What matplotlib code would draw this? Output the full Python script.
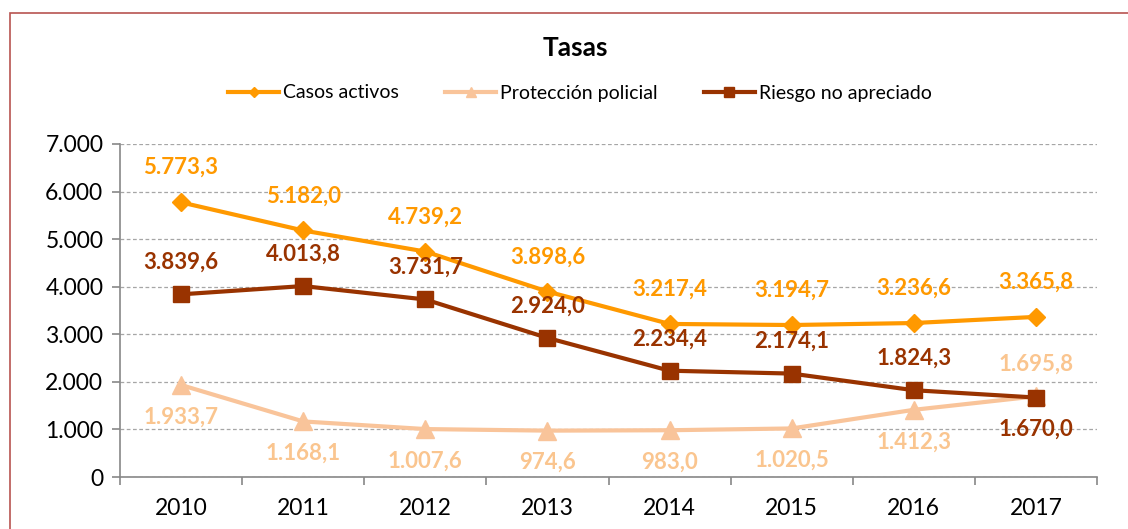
import matplotlib
matplotlib.use("Agg")
import matplotlib.pyplot as plt
from matplotlib.patches import Rectangle

plt.rcParams['font.family'] = ['Lato', 'DejaVu Sans']

years = ["2010", "2011", "2012", "2013", "2014", "2015", "2016", "2017"]
casos_activos = [5773.3, 5182.0, 4739.2, 3898.6, 3217.4, 3194.7, 3236.6, 3365.8]
proteccion_policial = [1933.7, 1168.1, 1007.6, 974.6, 983.0, 1020.5, 1412.3, 1695.8]
riesgo_no_apreciado = [3839.6, 4013.8, 3731.7, 2924.0, 2234.4, 2174.1, 1824.3, 1670.0]
y_ticks = [0, 1000, 2000, 3000, 4000, 5000, 6000, 7000]

c_casos = "#FF9900"
c_prot = "#F9C49A"
c_prot_txt = "#FAC58F"
c_riesgo = "#993300"

def fmt(v, dec=1):
    s = f"{v:,.{dec}f}"
    return s.replace(",", "X").replace(".", ",").replace("X", ".")

fig = plt.figure(figsize=(11.28, 5.29), dpi=100)
# outer frame
fig.patches.append(Rectangle((10/1128, -0.1), 1.2, (529-13)/529 + 0.1, transform=fig.transFigure,
                             fill=False, edgecolor="#B85450", linewidth=1.2))
ax = fig.add_axes([120/1128, 1-477/529, (1097-120)/1128, (477-144)/529])

x = list(range(len(years)))
ax.plot(x, casos_activos, color=c_casos, lw=3, marker="D", ms=9, label="Casos activos", zorder=3)
ax.plot(x, proteccion_policial, color=c_prot, lw=3, marker="^", ms=13, label="Protección policial", zorder=2)
ax.plot(x, riesgo_no_apreciado, color=c_riesgo, lw=3, marker="s", ms=11, label="Riesgo no apreciado", zorder=4)

lab_fs = 16
for i, v in enumerate(casos_activos):
    ax.annotate(fmt(v), (i, v), xytext=(0, 25), textcoords="offset points", ha="center", va="center",
                color=c_casos, fontsize=lab_fs, fontweight="bold")
for i, v in enumerate(riesgo_no_apreciado):
    dy = 23 if i < len(years) - 1 else -23
    ax.annotate(fmt(v), (i, v), xytext=(0, dy), textcoords="offset points", ha="center", va="center",
                color=c_riesgo, fontsize=lab_fs, fontweight="bold")
for i, v in enumerate(proteccion_policial):
    dy = -23 if i < len(years) - 1 else 23
    ax.annotate(fmt(v), (i, v), xytext=(0, dy), textcoords="offset points", ha="center", va="center",
                color=c_prot_txt, fontsize=lab_fs, fontweight="bold")

ax.set_xlim(-0.5, len(years) - 0.5)
ax.set_ylim(0, 7000)
ax.set_yticks(y_ticks)
ax.set_yticklabels([fmt(t, 0) for t in y_ticks], fontsize=16.5)
ax.set_xticks(x)
ax.set_xticklabels(years, fontsize=16.5)
ax.set_xticks([i - 0.5 for i in range(len(years) + 1)], minor=True)
ax.tick_params(axis="x", which="major", length=0, pad=15)
ax.tick_params(axis="x", which="minor", length=6, color="#888888", width=1.2)
ax.tick_params(axis="y", length=6, color="#888888", width=1.2, pad=6)
ax.grid(axis="y", linestyle=(0, (3, 2)), color="#A6A6A6", lw=0.9)
ax.set_axisbelow(True)
for s in ["top", "right"]:
    ax.spines[s].set_visible(False)
for s in ["left", "bottom"]:
    ax.spines[s].set_color("#888888")
    ax.spines[s].set_linewidth(1.2)

fig.text(575/1128, 1-48/529, "Tasas", ha="center", va="center", fontsize=19, fontweight="bold")
fig.legend(loc="center", bbox_to_anchor=(580/1128, 1-93/529), ncol=3, frameon=False, fontsize=14,
           handlelength=2.6, columnspacing=2.4, handletextpad=0.2, markerscale=0.6)

fig.savefig("out.png", dpi=100)
